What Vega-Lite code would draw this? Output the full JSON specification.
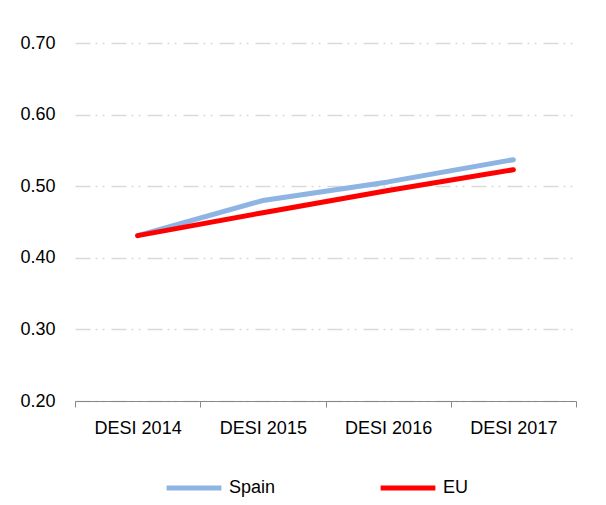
{
  "$schema": "https://vega.github.io/schema/vega-lite/v6.json",
  "width": 501,
  "height": 358,
  "autosize": "none",
  "padding": {"left": 75, "top": 43, "right": 30, "bottom": 104},
  "background": "white",
  "config": {
    "view": {"stroke": null},
    "font": "Liberation Sans",
    "axis": {"labelFont": "Liberation Sans", "labelFontSize": 18, "labelColor": "#000000"},
    "legend": {"labelFont": "Liberation Sans", "labelFontSize": 18, "labelColor": "#000000"}
  },
  "data": {
    "values": [
      {"year": "DESI 2014", "series": "Spain", "value": 0.431},
      {"year": "DESI 2015", "series": "Spain", "value": 0.480},
      {"year": "DESI 2016", "series": "Spain", "value": 0.506},
      {"year": "DESI 2017", "series": "Spain", "value": 0.537},
      {"year": "DESI 2014", "series": "EU", "value": 0.431},
      {"year": "DESI 2015", "series": "EU", "value": 0.463},
      {"year": "DESI 2016", "series": "EU", "value": 0.494},
      {"year": "DESI 2017", "series": "EU", "value": 0.523}
    ]
  },
  "mark": {"type": "line", "strokeWidth": 5, "strokeCap": "round", "strokeJoin": "round"},
  "encoding": {
    "x": {
      "field": "year",
      "type": "nominal",
      "sort": null,
      "scale": {"type": "band", "paddingInner": 0, "paddingOuter": 0},
      "axis": {
        "title": null,
        "labelAngle": 0,
        "tickBand": "extent",
        "domainColor": "#888888",
        "tickColor": "#888888",
        "tickSize": 6,
        "labelPadding": 12,
        "grid": false
      }
    },
    "y": {
      "field": "value",
      "type": "quantitative",
      "scale": {"domain": [0.2, 0.7], "nice": false, "zero": false},
      "axis": {
        "title": null,
        "values": [0.2, 0.3, 0.4, 0.5, 0.6, 0.7],
        "format": ".2f",
        "domain": false,
        "ticks": false,
        "labelPadding": 20,
        "grid": true,
        "gridColor": "#D9D9D9",
        "gridWidth": 1.3,
        "gridDash": [15, 5, 2, 5, 2, 7]
      }
    },
    "color": {
      "field": "series",
      "type": "nominal",
      "sort": ["Spain", "EU"],
      "scale": {"domain": ["Spain", "EU"], "range": ["#8DB4E2", "#FF0000"]},
      "legend": {
        "title": null,
        "orient": "none",
        "direction": "horizontal",
        "legendX": 89,
        "legendY": 415,
        "symbolType": "stroke",
        "symbolSize": 3000,
        "symbolStrokeWidth": 5,
        "labelOffset": 5,
        "columnPadding": 94
      }
    }
  }
}
